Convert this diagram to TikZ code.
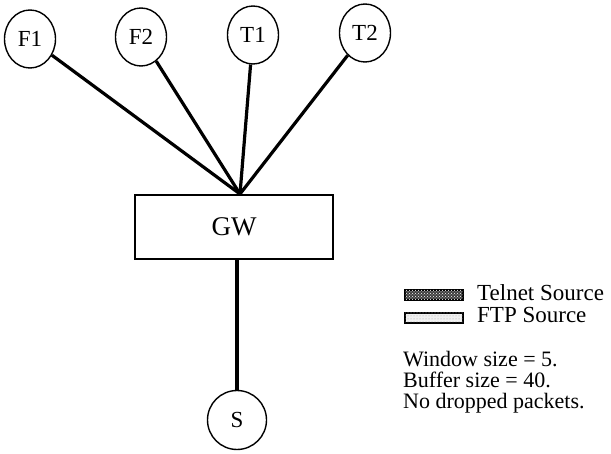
\documentclass[tikz,border=0pt]{standalone}
\usepackage{fontspec}
\setmainfont{Liberation Serif}
\usetikzlibrary{shapes.geometric,patterns}

\begin{document}
\begin{tikzpicture}[x=1pt, y=-1pt,
    host/.style={draw, ellipse, line width=1.4pt, minimum width=51pt, minimum height=58pt, inner sep=0pt, font=\fontsize{23}{23}\selectfont},
    gwbox/.style={draw, line width=1.4pt, minimum width=198pt, minimum height=64pt, font=\fontsize{27}{27}\selectfont},
    link/.style={line width=3.2pt},
    keybox/.style={draw, line width=1.6pt, minimum width=58pt, minimum height=10pt, inner sep=0pt},
    keytext/.style={anchor=base west, inner sep=0pt, font=\fontsize{23}{23}\selectfont}
  ]
    \useasboundingbox (0,0) rectangle (611,454);
    \node[host] (f1) at (30,39) {F1};
    \node[host] (f2) at (141,37) {F2};
    \node[host] (t1) at (253,35) {T1};
    \node[host] (t2) at (365,33) {T2};
    \node[gwbox] (gw) at (234,227) {GW};
    \node[host, minimum width=59pt, minimum height=59pt] (s) at (237,420) {S};
    \coordinate (hub) at (240,194);
    \draw[link] (f1) -- (hub);
    \draw[link] (f2) -- (hub);
    \draw[link] (t1) -- (hub);
    \draw[link] (t2) -- (hub);
    \draw[link] (gw.south -| s.north) -- (s);
    \node[keybox, fill=black!75, postaction={pattern=crosshatch dots, pattern color=white}] (telnetkey) at (434,295) {};
    \node[keytext] (telnetlbl) at (477,301) {Telnet Source};
    \node[keybox, fill=gray!12, postaction={pattern=dots, pattern color=gray!70}] (ftpkey) at (434,318) {};
    \node[keytext] (ftplbl) at (477,323) {FTP Source};
    \node[anchor=north west, inner sep=0pt, align=left, font=\fontsize{22}{21}\selectfont] (notes) at (403,351) {Window size = 5.\\Buffer size = 40.\\No dropped packets.};
  \end{tikzpicture}
\end{document}
